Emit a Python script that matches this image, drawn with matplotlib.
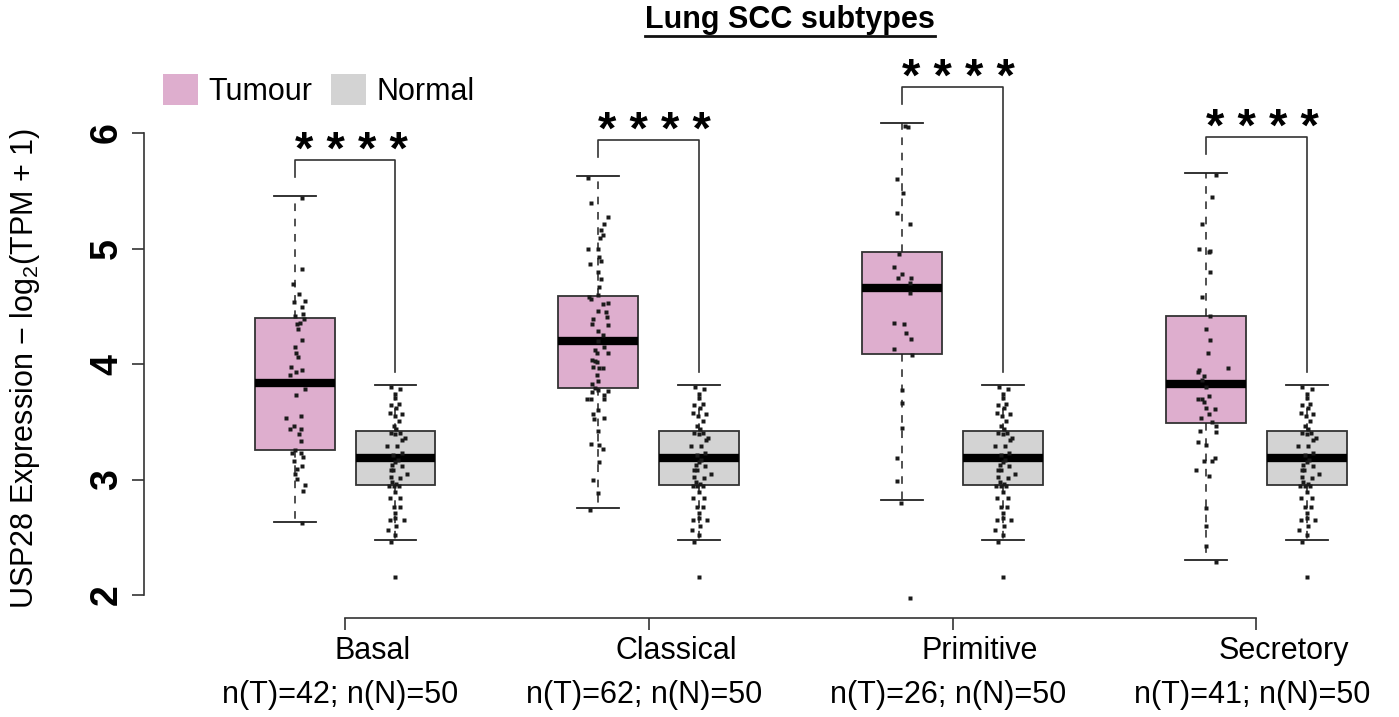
import numpy as np
import matplotlib
matplotlib.use("Agg")
import matplotlib.pyplot as plt
from matplotlib.patches import Patch
from matplotlib.lines import Line2D

plt.rcParams.update({
    "font.family": ["Liberation Sans", "DejaVu Sans"],
    "mathtext.fontset": "custom",
    "mathtext.rm": "Liberation Sans",
    "mathtext.it": "Liberation Sans:italic",
    "mathtext.bf": "Liberation Sans:bold",
})

# ── data ────────────────────────────────────────────────────────────────
SUBTYPES = ["Basal", "Classical", "Primitive", "Secretory"]
N_TUMOUR = [42, 62, 26, 41]
N_NORMAL = [50, 50, 50, 50]

# box stats: whislo, q1, median, q3, whishi
TUMOUR_STATS = [
    (2.632, 3.255, 3.835, 4.398, 5.455),
    (2.753, 3.790, 4.200, 4.589, 5.628),
    (2.820, 4.087, 4.658, 4.970, 6.087),
    (2.300, 3.490, 3.827, 4.416, 5.654),
]
NORMAL_STATS = (2.476, 2.952, 3.186, 3.420, 3.818)

basal_vals = [5.435, 4.820, 4.693, 4.606, 4.548, 4.534, 4.491, 4.430, 4.387,
              4.358, 4.346, 4.303, 4.208, 4.093, 4.063, 3.977, 3.948, 3.933,
              3.905, 3.781, 3.732, 3.535, 3.550, 3.463, 3.435, 3.435, 3.391,
              3.333, 3.232, 3.232, 3.192, 3.163, 3.094, 3.119, 3.004, 2.952,
              2.903, 2.621, 3.260, 3.050, 4.420, 4.150]
basal_jit = [.025, .023, -.006, .014, .034, -.002, .023, .029, .031, .017,
             .007, .012, .025, .003, .012, -.013, .025, .003, -.016, .034,
             .003, -.029, .021, -.002, -.015, .021, .016, .021, -.008, .021,
             .027, -.002, .009, .025, .007, .034, .027, .025, 0, .002, 0, .001]

classical_vals = [5.608, 5.391, 5.276, 5.209, 5.160, 5.117, 5.094, 4.993, 4.924,
                  4.892, 4.863, 4.800, 4.736, 4.597, 4.578, 4.563, 4.519, 4.526,
                  4.462, 4.453, 4.390, 4.404, 4.346, 4.338, 4.288, 4.251, 4.150,
                  4.121, 4.098, 4.093, 4.035, 4.029, 4.015, 3.977, 3.963, 3.963,
                  3.905, 3.824, 3.790, 3.775, 3.760, 3.766, 3.732, 3.694, 3.694,
                  3.694, 3.565, 3.521, 3.535, 3.305, 3.299, 3.261, 2.996, 2.736,
                  3.420, 3.150, 3.850, 2.880, 4.670, 5.000, 3.600, 4.200]
classical_jit = [-.033, -.024, .033, .020, .009, .014, .006, -.033, .003, .009,
                 -.027, -.002, .009, -.002, -.032, -.024, .016, .031, -.002, .025,
                 -.019, .027, -.022, .033, 0, .016, .020, -.011, -.006, .031,
                 -.022, -.011, -.004, -.019, .003, .014, -.004, -.021, -.011,
                 -.002, -.022, .031, .020, -.037, -.024, .017, -.019, -.013,
                 .017, -.024, .003, .014, -.019, -.027,
                 0, .001, 0, 0, .002, 0, -.002, 0]

primitive_vals = [6.065, 6.049, 5.599, 5.479, 5.309, 5.210, 4.954, 4.843, 4.782,
                  4.741, 4.741, 4.698, 4.612, 4.358, 4.343, 4.273, 4.214, 4.127,
                  4.075, 3.772, 3.664, 3.186, 2.985, 2.801, 1.977, 3.450]
primitive_jit = [.008, .021, -.016, .002, -.016, .025, -.009, -.027, 0, -.012,
                 .030, .027, .027, -.027, .006, .014, .030, -.027, .033, 0,
                 0, -.016, -.016, -.003, .025, 0]

secretory_vals = [5.636, 5.449, 5.209, 4.993, 4.967, 4.978, 4.794, 4.578, 4.418,
                  4.208, 4.093, 3.968, 3.933, 3.948, 3.896, 3.861, 3.723, 3.694,
                  3.694, 3.674, 3.608, 3.565, 3.535, 3.495, 3.466, 3.423, 3.409,
                  3.322, 3.163, 3.163, 3.189, 3.082, 3.033, 2.424, 2.288,
                  3.800, 3.620, 2.750, 2.600, 3.300, 4.300]
secretory_jit = [.032, .019, -.011, -.023, .011, .015, .015, -.014, .013, .013,
                 .006, .073, -.027, -.022, -.006, -.014, .010, -.025, -.011,
                 -.006, .030, .010, -.016, .021, .032, -.020, .033, -.025,
                 -.006, .019, .030, -.031, .010, 0, .035,
                 0, .001, 0, 0, 0, 0]

normal_vals = [3.798, 3.781, 3.703, 3.645, 3.651, 3.616, 3.578, 3.565, 3.509,
               3.463, 3.400, 3.394, 3.400, 3.362, 3.342, 3.290, 3.290, 3.227,
               3.126, 3.119, 3.082, 3.082, 3.048, 3.019, 3.010, 2.981, 2.944,
               2.944, 2.944, 2.837, 2.837, 2.765, 2.765, 2.713, 2.649, 2.669,
               2.649, 2.563, 2.456, 2.158,
               3.740, 3.550, 3.440, 3.210, 3.170, 3.150, 2.960, 2.890, 2.600, 2.520]
normal_jit = [-.014, .016, 0, -.016, .011, .003, -.019, .022, .011, -.006,
              -.016, 0, .014, .030, .022, -.027, .006, .020, -.011, .020,
              -.016, -.008, .039, -.016, .016, -.011, -.022, -.006, .011,
              -.019, .016, -.006, .014, 0, -.019, 0, .027, -.025, -.016, 0,
              0, -.003, .003, -.007, .007, 0, .003, 0, .003, 0]

TUMOUR_VALS = [basal_vals, classical_vals, primitive_vals, secretory_vals]
TUMOUR_JIT = [basal_jit, classical_jit, primitive_jit, secretory_jit]

PINK = "#DEAECE"
GREY = "#D3D3D3"
EDGE = "#333333"
FS = 22

fig = plt.figure(figsize=(13.99, 7.17), dpi=100)
ax = fig.add_axes([0, 0, 1, 1])
ax.set_xlim(-0.136, 4.470)
ax.set_ylim(0.944, 7.152)
ax.patch.set_alpha(0)

groups = np.arange(1, len(SUBTYPES) + 1)
off = 0.166
pos_t = groups - off
pos_n = groups + off


def stat_dict(s):
    lo, q1, med, q3, hi = s
    return dict(whislo=lo, q1=q1, med=med, q3=q3, whishi=hi, fliers=[])


common = dict(widths=0.263, capwidths=0.138, patch_artist=True, showfliers=False,
              manage_ticks=False,
              whiskerprops=dict(color="#222222", lw=1.1, linestyle=(0, (5, 5))),
              capprops=dict(color="#222222", lw=1.3),
              medianprops=dict(color="black", lw=6, solid_capstyle="butt"))
ax.bxp([stat_dict(s) for s in TUMOUR_STATS], positions=pos_t,
       boxprops=dict(facecolor=PINK, edgecolor=EDGE, lw=1.3), **common)
ax.bxp([stat_dict(NORMAL_STATS)] * 4, positions=pos_n,
       boxprops=dict(facecolor=GREY, edgecolor=EDGE, lw=1.3), **common)

# jittered points
for i, g in enumerate(groups):
    ax.plot(pos_t[i] + np.array(TUMOUR_JIT[i]), TUMOUR_VALS[i], "s",
            ms=2.8, color="#1a1a1a", mec="none", zorder=5)
    ax.plot(pos_n[i] + np.array(normal_jit), normal_vals, "s",
            ms=2.8, color="#1a1a1a", mec="none", zorder=5)

# significance brackets
for i, g in enumerate(groups):
    top = TUMOUR_STATS[i][4] + 0.31
    ax.plot([pos_t[i], pos_t[i], pos_n[i], pos_n[i]],
            [top - 0.147, top, top, NORMAL_STATS[4] + 0.11],
            color=EDGE, lw=1.2)
    ax.text(g + 0.02, top - 0.12, "* * * *", ha="center", va="bottom",
            fontsize=34, fontweight="bold")

# axes in base-R style
for side in ("top", "right"):
    ax.spines[side].set_visible(False)
ax.spines["left"].set_position(("data", 0.338))
ax.spines["left"].set_bounds(2, 6)
ax.spines["bottom"].set_position(("data", 1.80))
ax.spines["bottom"].set_bounds(1, 4)
for sp in ("left", "bottom"):
    ax.spines[sp].set_linewidth(1.2)
    ax.spines[sp].set_color(EDGE)

ax.set_yticks([2, 3, 4, 5, 6])
ax.set_yticklabels(["2", "3", "4", "5", "6"], rotation=90, va="center",
                   fontsize=27, fontweight="bold",
                   family=["Liberation Sans Narrow", "Liberation Sans"])
ax.set_xticks(groups)
ax.set_xticklabels([])
ax.tick_params(axis="both", length=8.6, width=1.2, color=EDGE)
ax.tick_params(axis="y", pad=5)

for i, g in enumerate(groups):
    ax.text(g + 0.09, 1.515, SUBTYPES[i], ha="center", va="center", fontsize=FS)
    ax.text(g - 0.015, 1.134, f"n(T)={N_TUMOUR[i]}; n(N)={N_NORMAL[i]}",
            ha="center", va="center", fontsize=FS)

ax.text(-0.054, 3.965, "USP28 Expression \u2212 log$_2$(TPM + 1)",
        rotation=90, ha="center", va="center", fontsize=FS)

# legend
handles = [Patch(facecolor=PINK, edgecolor="none"),
           Patch(facecolor=GREY, edgecolor="none")]
fig.legend(handles, ["Tumour", "Normal"], ncol=2, frameon=False,
           loc="upper left", bbox_to_anchor=(163 / 1399, 1 - 74 / 717),
           borderpad=0, borderaxespad=0, fontsize=FS,
           handlelength=1.15, handleheight=1.2, handletextpad=0.33,
           columnspacing=0.62)

# underlined title
title = fig.text(790 / 1399, 1 - 20 / 717, "Lung SCC subtypes", ha="center",
                 va="center", fontsize=FS, fontweight="bold")
fig.canvas.draw()
bb = title.get_window_extent()
uy = (bb.y0 - 1) / fig.bbox.height
fig.add_artist(Line2D([bb.x0 / fig.bbox.width, bb.x1 / fig.bbox.width], [uy, uy],
                      transform=fig.transFigure, color="#111111", lw=2))

fig.savefig("out.png", dpi=100, facecolor="white")
